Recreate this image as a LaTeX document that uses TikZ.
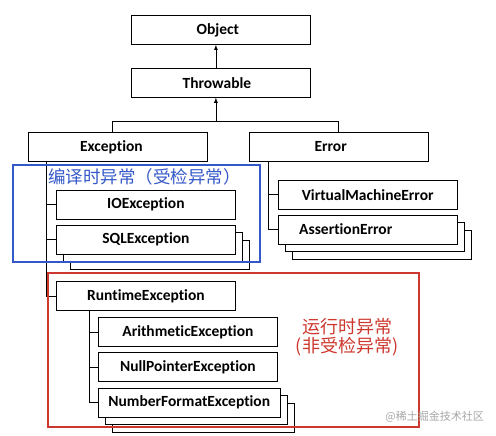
\documentclass[tikz,border=0pt]{standalone}
\usepackage{fontspec}
\setmainfont{Carlito}[Ligatures=NoCommon]
\newfontfamily\cjk{Noto Sans CJK SC}
\usepackage{xcolor}
\usepackage{tikz}
\usetikzlibrary{shapes,arrows,positioning,shadows}

\definecolor{checkedblue}{RGB}{52,88,200}
\definecolor{uncheckedred}{RGB}{205,55,45}

\begin{document}
\begin{tikzpicture}[x=1pt, y=-1pt,
  font=\bfseries\fontsize{15.5}{18}\selectfont,
  classbox/.style={rectangle, draw, fill=white, line width=0.8pt, minimum width=179pt, minimum height=29pt, inner xsep=10pt, inner ysep=2pt},
  stacked/.style={copy shadow={shadow xshift=14pt, shadow yshift=-15pt}, copy shadow={shadow xshift=7pt, shadow yshift=-7.5pt}},
  link/.style={line width=0.8pt}]
\useasboundingbox (0,0) rectangle (496,436);

\node (object) [classbox, anchor=north west] at (131,15) {Object\hspace*{6pt}};
\node (throwable) [classbox, below=23pt of object] {Throwable\hspace*{8pt}};
\node (exception) [classbox, anchor=north west] at (28,132) {Exception\hspace*{13pt}};
\node (error) [classbox, right=41pt of exception] {Error\hspace*{16pt}};

\node (ioexc) [classbox, below right=28pt and 28pt of exception.south west] {IOException};
\node (sqlexc) [classbox, stacked, below=5pt of ioexc] {SQLException};
\node (vmerror) [classbox, below right=18pt and 29pt of error.south west] {VirtualMachineError};
\node (asserterror) [classbox, stacked, below=5pt of vmerror, text width=137pt, align=left, inner xsep=21pt] {AssertionError};

\node (runtimeexc) [classbox, below right=27pt and 0pt of sqlexc.south west] {RuntimeException};
\node (arith) [classbox, below right=6pt and 42pt of runtimeexc.south west] {ArithmeticException};
\node (nullptr) [classbox, below right=5pt and 0pt of arith.south west] {NullPointerException};
\node (numfmt) [classbox, stacked, below right=6pt and 0pt of nullptr.south west] {NumberFormatException};

\draw[link, -latex] ([xshift=-5pt]throwable.north) -- ([xshift=-5pt]object.south);
\path ([xshift=-5pt]throwable.south) ++(0,24) coordinate (bus);
\draw[link] ([xshift=-5.5pt]exception.north) |- (bus) -| (error.north);
\draw[link, -latex] (bus) -- ([xshift=-5pt]throwable.south);

\draw[link] ([xshift=18pt]exception.south west) |- (ioexc.west);
\draw[link] ([xshift=18pt]exception.south west) |- (sqlexc.west);
\draw[link] ([xshift=18pt]exception.south west) |- (runtimeexc.west);
\draw[link] ([xshift=20pt]error.south west) |- (vmerror.west);
\draw[link] ([xshift=20pt]error.south west) |- (asserterror.west);
\draw[link] ([xshift=33pt]runtimeexc.south west) |- (arith.west);
\draw[link] ([xshift=33pt]runtimeexc.south west) |- (nullptr.west);
\draw[link] ([xshift=33pt]runtimeexc.south west) |- (numfmt.west);

\draw[checkedblue, line width=1.8pt] (13,165) rectangle (260,262);
\node (checkedlabel) [anchor=west, inner sep=0pt, text=checkedblue, font=\cjk\fontsize{17.5}{20}\selectfont] at (48,177) {编译时异常（受检异常）};
\draw[uncheckedred, line width=1.8pt] (48,273) rectangle (419,427);
\node (uncheckedlabel) [align=center, inner sep=0pt, text=uncheckedred, font=\cjk\fontsize{18}{19.5}\selectfont] at (347,337) {运行时异常\\(非受检异常)};
\node (watermark) [anchor=east, inner sep=0pt, text=black!35, font=\cjk\fontsize{11}{13}\selectfont] at (484,417) {@稀土掘金技术社区};
\end{tikzpicture}
\end{document}
